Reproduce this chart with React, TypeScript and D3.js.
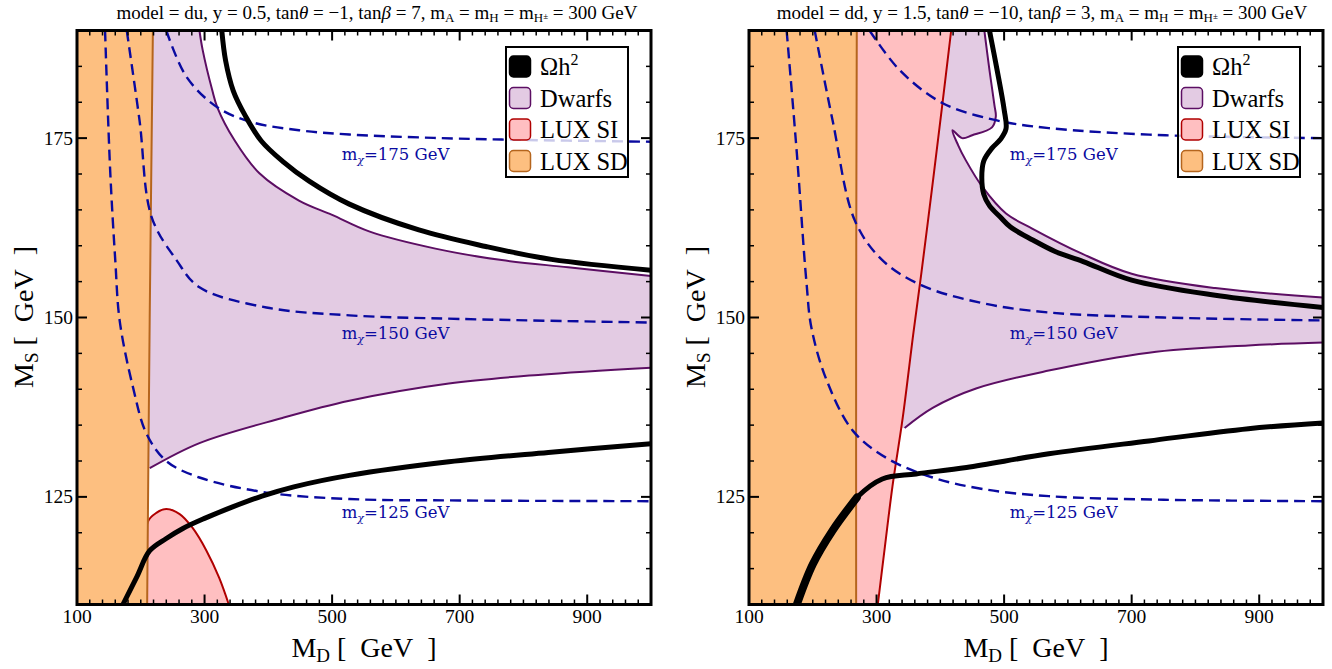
import React from 'react';
import * as d3 from 'd3';

type Pt = [number, number]; // [M_D, M_S] in GeV

// ---------- left panel: model du ----------
const duSD: Pt[] = [[210, 110], [214, 150], [219, 190]];
const duSI: Pt[] = [[210, 110], [211, 121.5], [225, 122.8], [240, 123.3], [261, 122.6], [281, 120.7], [303, 117.5], [323, 113.7], [338, 110]];
const duDwarfUpper: Pt[] = [[292, 190], [297, 187.3], [312, 181.7], [320, 179.3], [347, 174.7], [386, 170.1], [448, 166.3], [500, 164.3], [558, 162.0], [662, 159.6], [766, 158.0], [870, 157.0], [1000, 155.8]];
const duDwarfLower: Pt[] = [[214, 129.0], [292, 132.5], [422, 136.0], [527, 138.4], [683, 140.8], [823, 142.0], [1000, 143.0]];
const duOmegaUpper: Pt[] = [[327, 190], [333, 185.8], [345, 181.6], [364, 178.1], [389, 174.6], [422, 171.8], [464, 169.0], [527, 165.8], [636, 162.2], [741, 159.9], [844, 158.1], [1000, 156.6]];
const duOmegaLower: Pt[] = [[172, 110], [194, 113.9], [214, 117.5], [240, 119.2], [266, 120.6], [300, 122.0], [344, 123.6], [390, 125.1], [440, 126.4], [527, 128.0], [683, 129.9], [839, 131.2], [1000, 132.4]];
const duM175: Pt[] = [[240, 190], [272, 183.5], [320, 179.3], [375, 177.2], [448, 176.1], [527, 175.5], [636, 175.1], [766, 174.8], [1000, 174.5]];
const duM150: Pt[] = [[178, 190], [198, 177.5], [217, 164.0], [256, 158.0], [292, 154.2], [397, 151.4], [527, 150.3], [700, 149.8], [1000, 149.3]];
const duM125: Pt[] = [[144, 190], [152, 170.5], [160, 158], [167, 149.5], [188, 140.2], [209, 133.8], [240, 130.0], [292, 127.7], [397, 125.6], [527, 124.7], [700, 124.5], [1000, 124.4]];

// ---------- right panel: model dd ----------
const ddSD: Pt[] = [[268, 110], [268, 150], [269, 190]];
const ddSI: Pt[] = [[302, 110], [313, 118], [325, 126.5], [341, 136], [358, 148], [370, 156], [387, 168], [403, 179.6], [417, 190]];
const ddDwarfUpper: Pt[] = [[469, 190], [477, 184.5], [485, 179.5], [487, 178.0], [481, 176.5], [450, 175.4], [434, 175.0], [419, 176.1], [428, 174.0], [440, 171.9], [466, 168.2], [503, 164.5], [544, 162.4], [622, 158.9], [700, 156.1], [831, 154.1], [1000, 152.8]];
const ddDwarfLower: Pt[] = [[344, 134.6], [388, 137.4], [456, 140.1], [570, 142.6], [727, 145.1], [883, 146.1], [1000, 146.5]];
const ddOmegaUpper: Pt[] = [[477, 190], [489, 184.5], [500, 179], [503, 176.3], [494, 174.8], [481, 173.6], [468, 171.8], [465, 169.5], [468, 167.2], [477, 165.6], [494, 164], [510, 162.6], [545, 160.8], [580, 159.2], [624, 157.8], [700, 155.2], [831, 153.1], [1000, 151.4]];
const ddOmegaLower: Pt[] = [[175, 110], [200, 115.6], [231, 120.3], [269, 124.9], [309, 127.5], [362, 128.2], [441, 129.1], [570, 131.0], [727, 132.8], [883, 134.5], [1000, 135.3]];
const ddM175: Pt[] = [[289, 190], [336, 184.5], [403, 179.9], [487, 177.5], [570, 176.4], [753, 175.4], [1000, 175.0]];
const ddM150: Pt[] = [[203, 190], [231, 177.5], [266, 163.5], [309, 158.0], [370, 154.5], [466, 152.0], [570, 150.7], [750, 150.0], [1000, 149.6]];
const ddM125: Pt[] = [[159, 190], [175, 172.9], [190, 155], [198, 148.5], [222, 141.2], [263, 134.2], [316, 130.4], [388, 127.7], [466, 126.1], [570, 125.1], [750, 124.6], [1000, 124.4]];

const xTicks = [100, 300, 500, 700, 900];
const yTicks = [125, 150, 175];
const massValues = [175, 150, 125];
const legendLabels = ['Dwarfs', 'LUX SI', 'LUX SD'];

const C = {
  sdFill: '#fdbf80', sdLine: '#b5651d',
  siFill: '#ffbfc1', siLine: '#b00000',
  dwFill: '#e3cbe3', dwLine: '#5c0e63',
  mass: '#0a0aa0',
};
const SERIF = '"Liberation Serif", "Times New Roman", serif';

const W = 1332, H = 669;
const TOP = 30.5, BOTTOM = 604.5, PW = 574;

type PanelData = {
  x0: number; model: string; yv: string; tanTheta: string; tanBeta: string;
  sd: Pt[]; si: Pt[]; siFromLeft: boolean;
  dwUpper: Pt[]; dwLower: Pt[]; omUpper: Pt[]; omLower: Pt[];
  thickLower: number; // how many leading points of the lower relic line are drawn thicker
  masses: Pt[][]; labelMD: number; titleShift: number;
};

function Panel({ p }: { p: PanelData }) {
  const x = d3.scaleLinear().domain([100, 1000]).range([p.x0, p.x0 + PW]);
  const y = d3.scaleLinear().domain([110, 190]).range([BOTTOM, TOP]);
  const line = d3.line<Pt>().x(d => x(d[0])).y(d => y(d[1])).curve(d3.curveCatmullRom.alpha(0.5));
  const L = (d: Pt) => `L${x(d[0])},${y(d[1])}`;
  const clipId = `clip-${p.model}`;

  const sdPath = line(p.sd) + L([60, 190]) + L([60, 110]) + 'Z';
  const siPath = p.siFromLeft
    ? line(p.si) + L([200, 190]) + L([200, 110]) + 'Z'
    : line(p.si) + 'Z';
  const dwStartX = p.dwLower[0][0] - 60;
  const dwPath = line(p.dwUpper) + L([1010, p.dwUpper[p.dwUpper.length - 1][1]]) + L([1010, p.dwLower[p.dwLower.length - 1][1]])
    + line(p.dwLower.slice().reverse())!.replace('M', 'L') + L([dwStartX, p.dwLower[0][1]]) + L([dwStartX, 195]) + L([p.dwUpper[0][0], 195]) + 'Z';

  const minorX = d3.range(100, 1001, 20).filter(v => (v - 100) % 200 !== 0 && v !== 1000);
  const minorY = d3.range(115, 190, 5).filter(v => !yTicks.includes(v));
  const xR = p.x0 + PW;
  const cx = (p.x0 + xR) / 2;
  const legX = xR - 145, legY = 47;

  return (
    <g>
      <defs>
        <clipPath id={clipId}><rect x={p.x0} y={TOP} width={PW} height={BOTTOM - TOP} /></clipPath>
      </defs>
      <g clipPath={`url(#${clipId})`}>
        <path d={dwPath} fill={C.dwFill} stroke="none" />
        <path d={line(p.dwUpper)!} fill="none" stroke={C.dwLine} strokeWidth={2} />
        <path d={line(p.dwLower)!} fill="none" stroke={C.dwLine} strokeWidth={2} />
        <path d={siPath} fill={C.siFill} stroke="none" />
        <path d={line(p.si)!} fill="none" stroke={C.siLine} strokeWidth={2} />
        <path d={sdPath} fill={C.sdFill} stroke="none" />
        <path d={line(p.sd)!} fill="none" stroke={C.sdLine} strokeWidth={2} />
        {p.masses.map((m, i) => (
          <path key={i} d={line(m)!} fill="none" stroke={C.mass} strokeWidth={2.4} strokeDasharray="11,6" />
        ))}
        <path d={line(p.omUpper)!} fill="none" stroke="#000" strokeWidth={5} />
        <path d={line(p.omLower)!} fill="none" stroke="#000" strokeWidth={5} />
        {p.thickLower > 0 && (
          <path d={line(p.omLower.slice(0, p.thickLower))!} fill="none" stroke="#000" strokeWidth={8} strokeLinecap="round" />
        )}
        {massValues.map(v => (
          <text key={v} x={x(p.labelMD)} y={y(v - 3)} fill={C.mass} fontFamily={'"DejaVu Serif", serif'} fontSize={16.5}>
            m<tspan fontSize={11} dy={4} fontStyle="italic">χ</tspan><tspan dy={-4}>={v} GeV</tspan>
          </text>
        ))}
      </g>
      {/* frame ticks */}
      {xTicks.map(v => (
        <g key={v}>
          <line x1={x(v)} x2={x(v)} y1={BOTTOM} y2={BOTTOM - 10} stroke="#000" strokeWidth={2} />
          <line x1={x(v)} x2={x(v)} y1={TOP} y2={TOP + 10} stroke="#000" strokeWidth={2} />
          <text x={x(v)} y={623} textAnchor="middle" fontFamily={SERIF} fontSize={19.5}>{v}</text>
        </g>
      ))}
      {minorX.map(v => (
        <g key={v}>
          <line x1={x(v)} x2={x(v)} y1={BOTTOM} y2={BOTTOM - 5} stroke="#000" strokeWidth={1.5} />
          <line x1={x(v)} x2={x(v)} y1={TOP} y2={TOP + 5} stroke="#000" strokeWidth={1.5} />
        </g>
      ))}
      {yTicks.map(v => (
        <g key={v}>
          <line x1={p.x0} x2={p.x0 + 10} y1={y(v)} y2={y(v)} stroke="#000" strokeWidth={2} />
          <line x1={xR} x2={xR - 10} y1={y(v)} y2={y(v)} stroke="#000" strokeWidth={2} />
          <text x={p.x0 - 4} y={y(v) + 6.5} textAnchor="end" fontFamily={SERIF} fontSize={19.5}>{v}</text>
        </g>
      ))}
      {minorY.map(v => (
        <g key={v}>
          <line x1={p.x0} x2={p.x0 + 5} y1={y(v)} y2={y(v)} stroke="#000" strokeWidth={1.5} />
          <line x1={xR} x2={xR - 5} y1={y(v)} y2={y(v)} stroke="#000" strokeWidth={1.5} />
        </g>
      ))}
      <rect x={p.x0} y={TOP} width={PW} height={BOTTOM - TOP} fill="none" stroke="#000" strokeWidth={3} />

      {/* axis labels */}
      <text x={cx} y={657} textAnchor="middle" fontFamily={SERIF} fontSize={28}>
        M<tspan fontSize={19} dy={5}>D</tspan><tspan dy={-5}>{'\u00a0[\u2002GeV\u2002]'}</tspan>
      </text>
      <text transform={`translate(${p.x0 - 44},317) rotate(-90)`} textAnchor="middle" fontFamily={SERIF} fontSize={28}>
        M<tspan fontSize={19} dy={5}>S</tspan><tspan dy={-5}>{'\u00a0[\u2002GeV\u2002]'}</tspan>
      </text>

      {/* title */}
      <text x={cx + p.titleShift} y={19} textAnchor="middle" fontFamily={SERIF} fontSize={19}>
        model = {p.model}, y = {p.yv}, tan<tspan fontStyle="italic">θ</tspan> = {p.tanTheta}, tan<tspan fontStyle="italic">β</tspan> = {p.tanBeta}, m<tspan fontSize={13} dy={3}>A</tspan><tspan dy={-3}> = m</tspan><tspan fontSize={13} dy={3}>H</tspan><tspan dy={-3}> = m</tspan><tspan fontSize={13} dy={3}>H</tspan><tspan fontSize={9} dy={-3}>±</tspan><tspan> = 300 GeV</tspan>
      </text>

      {/* legend */}
      <g>
        <rect x={legX} y={legY} width={122} height={130} fill="#fff" fillOpacity={0.78} stroke="#000" strokeWidth={2} />
        <rect x={legX + 3.5} y={legY + 9} width={21} height={21} rx={4} fill="#000" stroke="#000" strokeWidth={1.5} />
        <text x={legX + 34} y={legY + 28} fontFamily={SERIF} fontSize={24.5}>
          Ωh<tspan fontSize={16} dy={-10}>2</tspan>
        </text>
        {legendLabels.map((lab, i) => {
          const sy = legY + 9 + (i + 1) * 31.5;
          const fill = i === 0 ? C.dwFill : i === 1 ? C.siFill : C.sdFill;
          const st = i === 0 ? C.dwLine : i === 1 ? C.siLine : C.sdLine;
          return (
            <g key={lab}>
              <rect x={legX + 3.5} y={sy} width={21} height={21} rx={4} fill={fill} stroke={st} strokeWidth={1.5} />
              <text x={legX + 34} y={sy + 19} fontFamily={SERIF} fontSize={24.5}>{lab}</text>
            </g>
          );
        })}
      </g>
    </g>
  );
}

const panels: PanelData[] = [
  {
    x0: 77, model: 'du', yv: '0.5', tanTheta: '\u22121', tanBeta: '7',
    sd: duSD, si: duSI, siFromLeft: false,
    dwUpper: duDwarfUpper, dwLower: duDwarfLower, omUpper: duOmegaUpper, omLower: duOmegaLower,
    thickLower: 0, masses: [duM175, duM150, duM125], labelMD: 515, titleShift: 13,
  },
  {
    x0: 749, model: 'dd', yv: '1.5', tanTheta: '\u221210', tanBeta: '3',
    sd: ddSD, si: ddSI, siFromLeft: true,
    dwUpper: ddDwarfUpper, dwLower: ddDwarfLower, omUpper: ddOmegaUpper, omLower: ddOmegaLower,
    thickLower: 4, masses: [ddM175, ddM150, ddM125], labelMD: 509, titleShift: 6,
  },
];

export default function App() {
  return (
    <div style={{ position: 'absolute', left: 0, top: 0 }}>
      <svg width={W} height={H} style={{ display: 'block', background: '#fff' }}>
        {panels.map(p => <Panel key={p.model} p={p} />)}
      </svg>
    </div>
  );
}
